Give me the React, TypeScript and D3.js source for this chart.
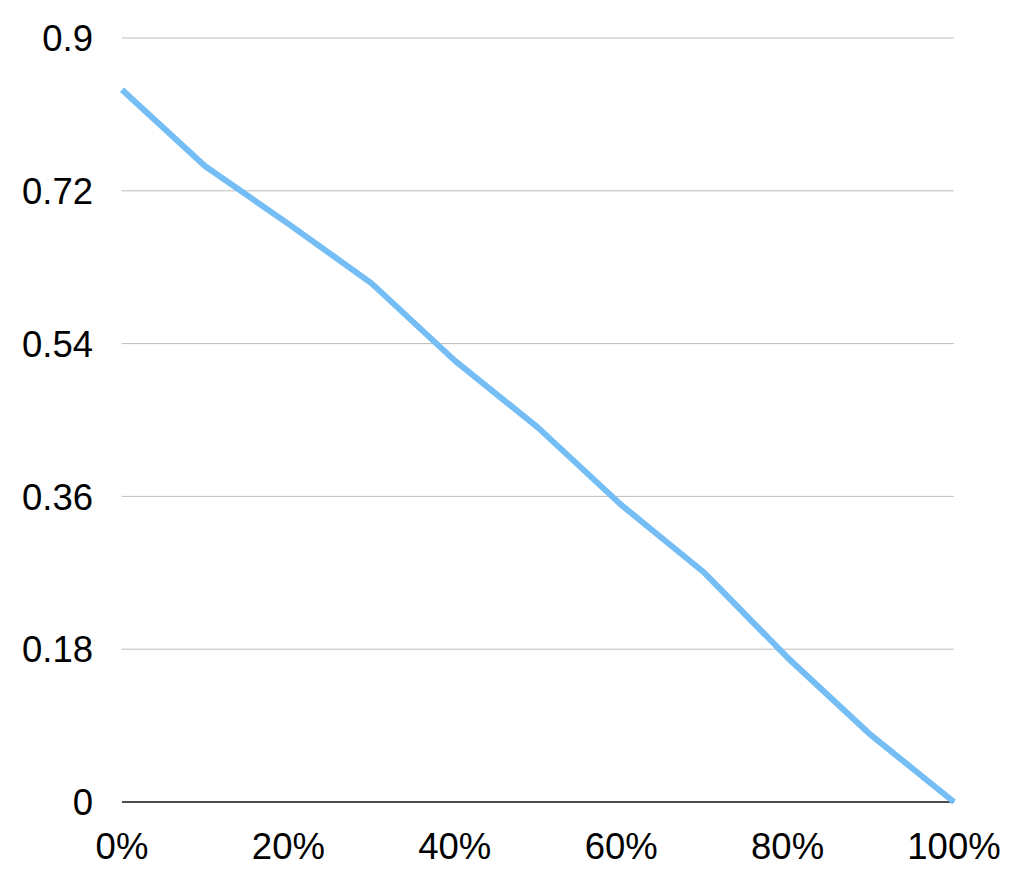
import React from 'react';
import * as d3 from 'd3';

// share of range (x) vs value (y)
const xPercents = [0, 10, 20, 30, 40, 50, 60, 70, 80, 90, 100];
const yValues = [0.839, 0.749, 0.681, 0.611, 0.52, 0.441, 0.35, 0.27, 0.17, 0.079, 0];
const yTicks = [0, 0.18, 0.36, 0.54, 0.72, 0.9];
const xTicks = [0, 20, 40, 60, 80, 100];

const W = 1034;
const H = 886;
const margin = { top: 38, right: 80, bottom: 84, left: 122 };

const App = () => {
    const x = d3.scaleLinear().domain([0, 100]).range([margin.left, W - margin.right]);
    const y = d3.scaleLinear().domain([0, 0.9]).range([H - margin.bottom, margin.top]);

    const line = d3.line<number>()
        .x((_, i) => x(xPercents[i]))
        .y(d => y(d));

    const font = '"Liberation Sans", Arial, Helvetica, sans-serif';

    return (
        <div style={{ position: 'absolute', left: 0, top: 0 }}>
            <svg width={W} height={H} style={{ display: 'block', background: '#fff' }}>
                {/* grid */}
                {yTicks.filter(t => t !== 0).map(t => (
                    <line key={t}
                        x1={x(0)} x2={x(100)} y1={y(t)} y2={y(t)}
                        stroke="#bdbdbd" strokeWidth={1} />
                ))}
                <line x1={x(0)} x2={x(100)} y1={y(0)} y2={y(0)} stroke="#111" strokeWidth={1.5} />

                {/* y labels */}
                {yTicks.map(t => (
                    <text key={t} x={93} y={y(t)} dy="0.36em" textAnchor="end"
                        fontFamily={font} fontSize={36.5} fill="#000">
                        {String(t)}
                    </text>
                ))}

                {/* x labels */}
                {xTicks.map(t => (
                    <text key={t} x={x(t)} y={859} textAnchor="middle"
                        fontFamily={font} fontSize={36.5} fill="#000">
                        {t + '%'}
                    </text>
                ))}

                <path d={line(yValues) || ''} fill="none" stroke="#74bdf5"
                    strokeWidth={6} strokeLinejoin="round" />
            </svg>
        </div>
    );
};

export default App;
